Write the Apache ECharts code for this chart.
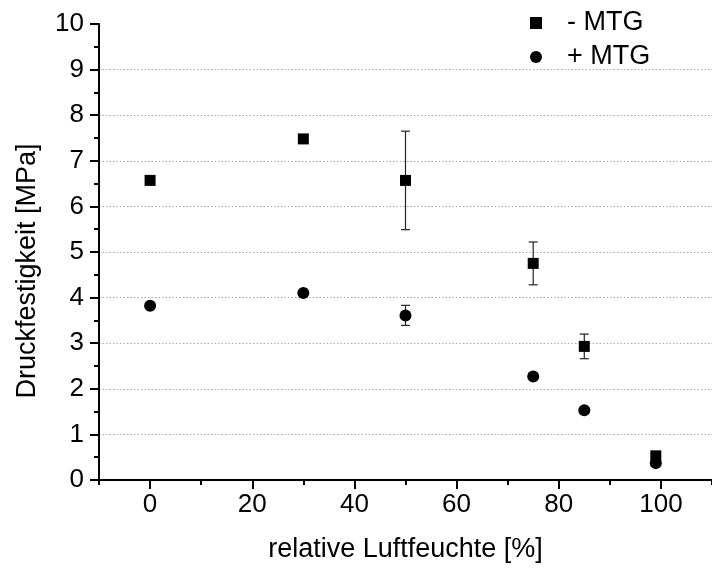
<!DOCTYPE html>
<html>
<head>
<meta charset="utf-8">
<script src="https://cdn.jsdelivr.net/npm/echarts@6/dist/echarts.min.js"></script>
<style>
html,body{margin:0;padding:0;background:#fff;}
#chart{width:712px;height:570px;}
</style>
</head>
<body>
<div id="chart"></div>
<script>
// Data
const xValues = [0, 30, 50, 75, 85, 99];
const minusMTG = [6.57, 7.48, 6.57, 4.75, 2.93, 0.53];
const minusMTGErr = [0, 0, 1.08, 0.47, 0.27, 0];
const plusMTG = [3.82, 4.10, 3.61, 2.27, 1.53, 0.37];
const plusMTGErr = [0, 0, 0.22, 0, 0, 0];
const xTickLabels = [0, 20, 40, 60, 80, 100];
const xMinorTicks = [-10, 10, 30, 50, 70, 90, 110];
const seriesNames = ['- MTG', '+ MTG'];

const FONT = '"Liberation Sans", Arial, sans-serif';

function pts(ys) { return xValues.map((x, i) => [x, ys[i]]); }
function errData(ys, es) {
  const out = [];
  xValues.forEach((x, i) => { if (es[i] > 0) out.push([x, ys[i] - es[i], ys[i] + es[i]]); });
  return out;
}
function errRender(params, api) {
  const x = api.value(0);
  const lo = api.coord([x, api.value(1)]);
  const hi = api.coord([x, api.value(2)]);
  const hw = 4.5;
  const st = { stroke: '#222', lineWidth: 1.2, fill: null };
  return {
    type: 'group',
    children: [
      { type: 'line', shape: { x1: lo[0], y1: lo[1], x2: hi[0], y2: hi[1] }, style: st },
      { type: 'line', shape: { x1: lo[0] - hw, y1: lo[1], x2: lo[0] + hw, y2: lo[1] }, style: st },
      { type: 'line', shape: { x1: hi[0] - hw, y1: hi[1], x2: hi[0] + hw, y2: hi[1] }, style: st }
    ]
  };
}

const gridColors = [];
for (let i = 0; i <= 10; i++) gridColors.push(i === 10 || i === 0 ? 'rgba(0,0,0,0)' : '#aaaaaa');

const chart = echarts.init(document.getElementById('chart'), null, { renderer: 'canvas' });
chart.setOption({
  animation: false,
  backgroundColor: '#fff',
  textStyle: { fontFamily: FONT },
  grid: { left: 99, right: -5, top: 24, bottom: 90, containLabel: false },
  legend: {
    orient: 'vertical',
    left: 525, top: 3,
    itemWidth: 12, itemHeight: 12, itemGap: 4,
    data: [
      { name: seriesNames[0], icon: 'rect' },
      { name: seriesNames[1], icon: 'circle' }
    ],
    itemStyle: { color: '#000', opacity: 1 },
    textStyle: { fontFamily: FONT, fontSize: 27, color: '#000', lineHeight: 30, padding: [0, 0, 0, 20] }
  },
  xAxis: [
    {
      type: 'value', min: -10, max: 110, interval: 10,
      name: 'relative Luftfeuchte [%]', nameLocation: 'middle', nameGap: 56,
      nameTextStyle: { fontFamily: FONT, fontSize: 27, color: '#000' },
      axisLine: { show: true, onZero: false, lineStyle: { color: '#000', width: 2 } },
      axisTick: { show: true, inside: false, length: 9, lineStyle: { color: '#000', width: 2 }, customValues: xTickLabels },
      axisLabel: { show: true, margin: 12, fontSize: 26, color: '#000', fontFamily: FONT, customValues: xTickLabels },
      splitLine: { show: false },
      minorTick: { show: false }
    },
    {
      type: 'value', min: -10, max: 110, interval: 10, position: 'bottom',
      axisLine: { show: false, onZero: false },
      axisTick: { show: true, inside: false, length: 5, lineStyle: { color: '#000', width: 2 }, customValues: xMinorTicks },
      axisLabel: { show: false },
      splitLine: { show: false }
    }
  ],
  yAxis: {
    type: 'value', min: 0, max: 10, interval: 1,
    name: 'Druckfestigkeit [MPa]', nameLocation: 'middle', nameGap: 58,
    nameTextStyle: { fontFamily: FONT, fontSize: 27, color: '#000', padding: [0, 38, 0, 0] },
    axisLine: { show: true, onZero: false, lineStyle: { color: '#000', width: 2 } },
    axisTick: { show: true, inside: false, length: 9, lineStyle: { color: '#000', width: 2 } },
    minorTick: { show: true, splitNumber: 2, length: 5, lineStyle: { color: '#000', width: 2 } },
    axisLabel: { margin: 15, fontSize: 26, color: '#000', fontFamily: FONT },
    splitLine: { show: true, lineStyle: { color: gridColors, width: 1, type: [1.5, 2] } }
  },
  series: [
    {
      name: seriesNames[0] + ' err', type: 'custom', renderItem: errRender,
      data: errData(minusMTG, minusMTGErr), z: 1, silent: true
    },
    {
      name: seriesNames[1] + ' err', type: 'custom', renderItem: errRender,
      data: errData(plusMTG, plusMTGErr), z: 1, silent: true
    },
    {
      name: seriesNames[0], type: 'scatter', symbol: 'rect', symbolSize: 11,
      itemStyle: { color: '#000', opacity: 1 }, data: pts(minusMTG), z: 3
    },
    {
      name: seriesNames[1], type: 'scatter', symbol: 'circle', symbolSize: 12,
      itemStyle: { color: '#000', opacity: 1 }, data: pts(plusMTG), z: 3
    }
  ]
});
</script>
</body>
</html>
